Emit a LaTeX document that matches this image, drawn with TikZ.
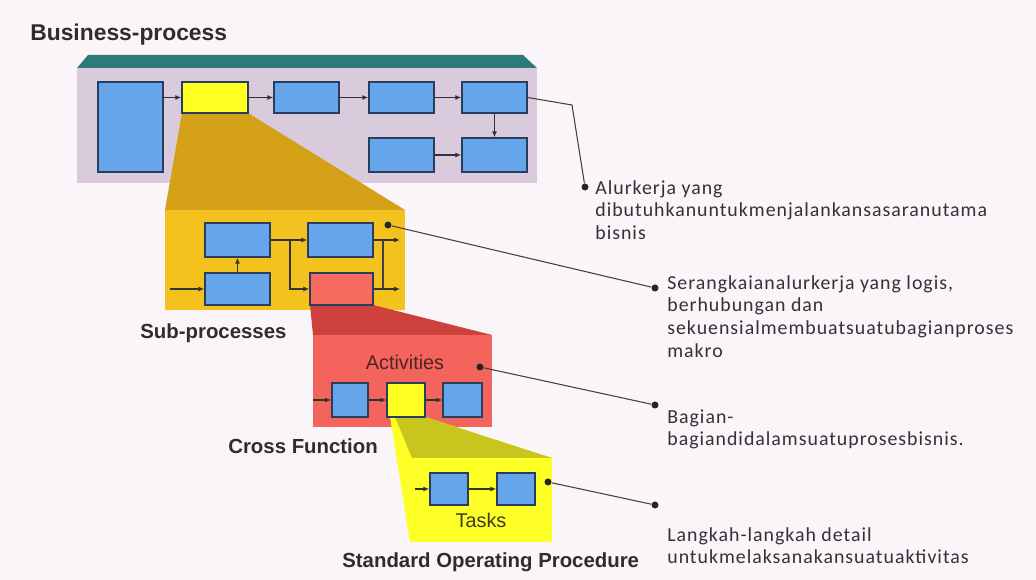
\documentclass[tikz,border=0pt]{standalone}
\usepackage{fontspec}
\setmainfont{Liberation Sans}
\newfontfamily\notefont{Carlito}[LetterSpace=5]
\usetikzlibrary{arrows.meta}

\definecolor{bgpink}{RGB}{249,245,249}
\definecolor{lavface}{RGB}{217,203,219}
\definecolor{tealtop}{RGB}{46,122,122}
\definecolor{boxblue}{RGB}{102,165,234}
\definecolor{boxline}{RGB}{40,62,92}
\definecolor{hiyellow}{RGB}{255,255,34}
\definecolor{goldtop}{RGB}{212,160,24}
\definecolor{goldface}{RGB}{244,194,30}
\definecolor{redtop}{RGB}{205,64,60}
\definecolor{redface}{RGB}{242,100,92}
\definecolor{salmon}{RGB}{246,106,96}
\definecolor{olivetop}{RGB}{200,198,30}
\definecolor{taskface}{RGB}{255,255,40}
\definecolor{headgrey}{RGB}{45,45,45}
\definecolor{notegrey}{RGB}{50,50,55}

\begin{document}
\begin{tikzpicture}[x=0.02cm, y=-0.02cm,
  blk/.style={draw=boxline, fill=boxblue, line width=0.8pt, minimum width=1.3cm, minimum height=0.64cm, inner sep=0pt},
  flow/.style={draw=black!80, line width=0.6pt, -{Latex[length=0.12cm,width=0.1cm]}},
  lead/.style={draw=black!75, line width=0.6pt},
  dot/.style={circle, fill=black!85, inner sep=0pt, minimum size=0.14cm},
  head/.style={font=\bfseries\fontsize{11.6}{13}\selectfont, text=headgrey, anchor=west, inner sep=0pt},
  note/.style={font=\notefont\fontsize{11.3}{13}\selectfont, text=notegrey, align=left, anchor=north west, inner sep=0pt}]

\useasboundingbox (0,0) rectangle (1036,580);
\fill[bgpink] (0,0) rectangle (1036,580);

% business process panel
\fill[tealtop] (88,55) -- (523,55) -- (537,68) -- (77,68) -- cycle;
\fill[lavface] (77,68) rectangle (537,183);

% zoom into the yellow step
\fill[goldtop] (182,113) -- (248,113) -- (405,210) -- (165,210) -- cycle;
\fill[goldface] (165,210) rectangle (405,310);
\fill[redtop] (310,305) -- (373,305) -- (492,335) -- (313,335) -- cycle;
\fill[redface] (313,335) rectangle (492,427);
\fill[taskface] (390,417) -- (410,542) -- (552,542) -- (552,458) -- (425,417) -- cycle;
\fill[olivetop] (395,417) -- (412,458) -- (552,458) -- (425,417) -- cycle;

% top row
\node[blk, minimum height=1.8cm] (b1) at (130.5,127) {};
\node[blk, fill=hiyellow, minimum width=1.32cm, minimum height=0.62cm] (y1) at (215,97.5) {};
\node[blk, minimum height=0.62cm] (b3) at (306.5,97.5) {};
\node[blk, minimum height=0.62cm] (b4) at (401.5,97.5) {};
\node[blk, minimum height=0.62cm] (b5) at (494.5,97.5) {};
\node[blk, minimum height=0.68cm] (b6) at (401.5,155) {};
\node[blk, minimum height=0.68cm] (b7) at (494.5,155) {};
\draw[flow] (b1.east |- y1.west) -- (y1.west);
\draw[flow] (y1) -- (b3);
\draw[flow] (b3) -- (b4);
\draw[flow] (b4) -- (b5);
\draw[flow] (b5) -- (b7);
\draw[flow] (b6) -- (b7);

% sub-processes
\node[blk, minimum height=0.68cm] (sa) at (237.5,240) {};
\node[blk] (sb) at (237.5,289) {};
\node[blk, minimum height=0.68cm] (sc) at (340.5,240) {};
\node[blk, fill=salmon, minimum width=1.26cm] (sd) at (341.5,289) {};
\coordinate (sin) at (170,289);
\coordinate (j1) at (290,240);
\coordinate (j2) at (383,240);
\coordinate (o1) at (400,240);
\coordinate (o2) at (400,289);
\draw[flow] (sin) -- (sb);
\draw[flow] (sb) -- (sa);
\draw[flow] (sa) -- (sc);
\draw[flow] (j1) |- (sd);
\draw[flow] (sc) -- (o1);
\draw[flow] (sd) -- (o2);
\draw[lead] (j2) -- (j2 |- o2);

% activities
\node[blk, minimum width=0.72cm, minimum height=0.68cm] (ra) at (350,400) {};
\node[blk, fill=hiyellow, minimum width=0.76cm, minimum height=0.68cm] (rb) at (406,400) {};
\node[blk, minimum width=0.78cm, minimum height=0.68cm] (rc) at (462.5,400) {};
\coordinate (rin) at (313,400);
\draw[flow] (rin) -- (ra);
\draw[flow] (ra) -- (rb);
\draw[flow] (rb) -- (rc);
\node[font=\fontsize{11.3}{13}\selectfont, text={rgb,255:red,80;green,35;blue,35}] (act) at (405,362) {Activities};

% tasks
\node[blk, minimum width=0.76cm] (ta) at (449,489) {};
\node[blk, minimum width=0.76cm] (tb) at (516,489) {};
\coordinate (tin) at (415,489);
\draw[flow] (tin) -- (ta);
\draw[flow] (ta) -- (tb);
\node[font=\fontsize{11.3}{13}\selectfont, text={rgb,255:red,60;green,60;blue,30}] (tsk) at (481,520) {Tasks};

% titles
\node[head, font=\bfseries\fontsize{13}{15}\selectfont] (t1) at (30,35) {Business-process};
\node[head] (t2) at (140,333) {Sub-processes};
\node[head] (t3) at (228,446) {Cross Function};
\node[head] (t4) at (342,562) {Standard Operating Procedure};

% leaders and notes
\coordinate (k1) at (572,105);
\node[dot] (q2) at (388,225) {};
\node[dot] (q3) at (480,367) {};
\node[dot] (q4) at (548,482) {};
\node[dot] (p1) at (585,187) {};
\node[dot] (p2) at (655,288) {};
\node[dot] (p3) at (655,405) {};
\node[dot] (p4) at (655,505) {};
\draw[lead] (b5.east) -- (k1) -- (p1);
\draw[lead] (q2) -- (p2);
\draw[lead] (q3) -- (p3);
\draw[lead] (q4) -- (p4);

\node[note] (n1) at (595,180) {Alurkerja yang\\dibutuhkanuntukmenjalankansasaranutama\\bisnis};
\node[note] (n2) at (667,275) {Serangkaianalurkerja yang logis,\\berhubungan dan\\sekuensialmembuatsuatubagianproses\\makro};
\node[note] (n3) at (667,409) {Bagian-\\bagiandidalamsuatuprosesbisnis.};
\node[note] (n4) at (667,527) {Langkah-langkah detail\\untukmelaksanakansuatuaktivitas};
\end{tikzpicture}
\end{document}
